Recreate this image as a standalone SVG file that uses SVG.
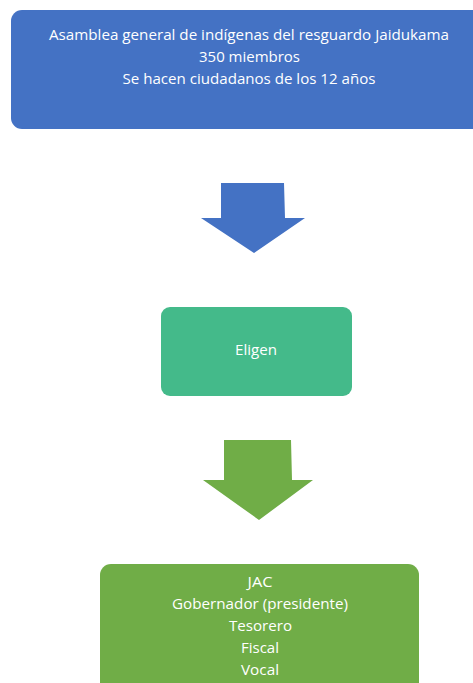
<svg xmlns="http://www.w3.org/2000/svg" width="473" height="683" viewBox="0 0 473 683">
<style>
.t{font-family:"Open Sans","Liberation Sans",sans-serif;font-size:14px;fill:#ffffff;text-anchor:middle}
</style>
<rect width="473" height="683" fill="#ffffff"/>
<g id="connectors">
<polygon id="arrow1" points="221,183 284,183 285,218 305,218 254,253 201,218 221,218" fill="#4472C4"/>
<polygon id="arrow2" points="224,440 291,440 292,480 313,480 259,520 203,480 224,480" fill="#70AD47"/>
</g>
<g id="asamblea">
<rect x="11" y="10" width="477" height="119" rx="11" fill="#4472C4"/>
<text class="t" x="249" y="39.5" textLength="400" lengthAdjust="spacingAndGlyphs">Asamblea general de indígenas del resguardo Jaidukama</text>
<text class="t" x="249.5" y="62" textLength="101" lengthAdjust="spacingAndGlyphs">350 miembros</text>
<text class="t" x="249" y="84" textLength="253" lengthAdjust="spacingAndGlyphs">Se hacen ciudadanos de los 12 años</text>
</g>
<g id="eligen">
<rect x="161" y="307" width="191" height="89" rx="9" fill="#44BA8A"/>
<text class="t" x="256" y="355" textLength="42" lengthAdjust="spacingAndGlyphs">Eligen</text>
</g>
<g id="jac">
<rect x="100" y="564" width="319" height="130" rx="11" fill="#70AD47"/>
<text class="t" x="260" y="587" textLength="25" lengthAdjust="spacingAndGlyphs">JAC</text>
<text class="t" x="260" y="609" textLength="176" lengthAdjust="spacingAndGlyphs">Gobernador (presidente)</text>
<text class="t" x="260.5" y="631" textLength="63" lengthAdjust="spacingAndGlyphs">Tesorero</text>
<text class="t" x="260" y="653" textLength="38" lengthAdjust="spacingAndGlyphs">Fiscal</text>
<text class="t" x="260" y="675" textLength="38" lengthAdjust="spacingAndGlyphs">Vocal</text>
</g>
</svg>
